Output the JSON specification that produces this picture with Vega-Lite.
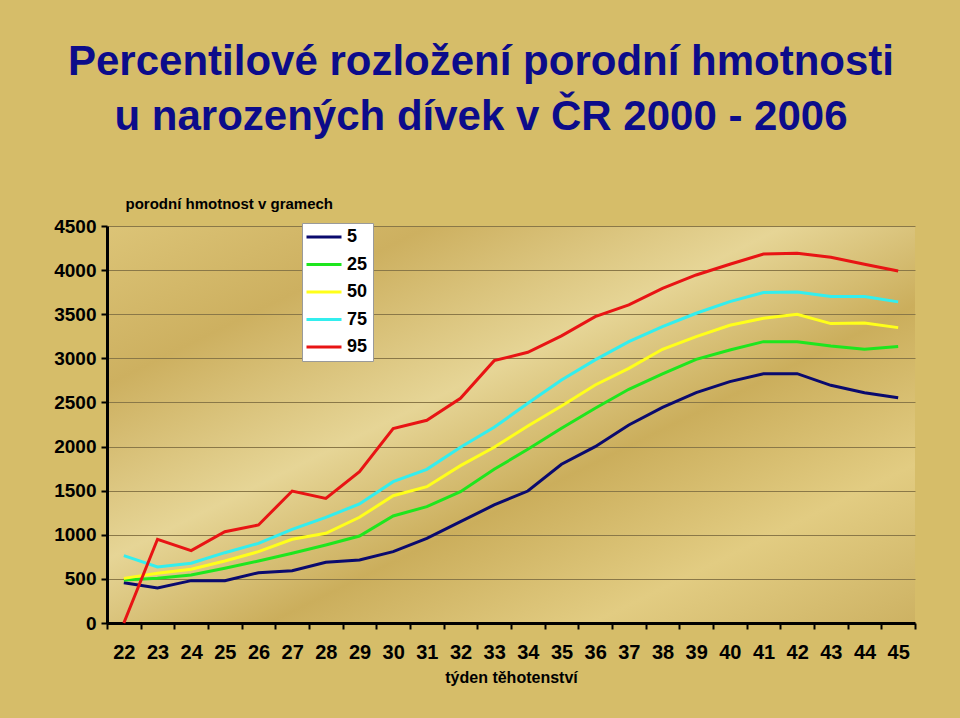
{
  "$schema": "https://vega.github.io/schema/vega-lite/v6.json",
  "width": 808,
  "height": 397,
  "autosize": "none",
  "padding": {"left": 107, "top": 226, "right": 45, "bottom": 95},
  "background": "#d6bd69",
  "title": {
    "text": ["Percentilové rozložení porodní hmotnosti", "u narozených dívek v ČR 2000 - 2006"],
    "font": "Liberation Sans",
    "fontSize": 42,
    "fontWeight": "bold",
    "color": "#0c0c8a",
    "anchor": "middle",
    "frame": "group",
    "dx": -30,
    "lineHeight": 55,
    "offset": 57
  },
  "config": {
    "font": "Liberation Sans",
    "view": {
      "stroke": null,
      "fill": {
        "gradient": "linear",
        "x1": 0, "y1": 0, "x2": 1, "y2": 1,
        "stops": [
          {"offset": 0, "color": "#dcc477"},
          {"offset": 0.2, "color": "#cdb060"},
          {"offset": 0.42, "color": "#e6d596"},
          {"offset": 0.6, "color": "#cbae5c"},
          {"offset": 0.8, "color": "#e2cc82"},
          {"offset": 1, "color": "#cdb263"}
        ]
      }
    }
  },
  "data": {
    "values": [
      {"w": 22, "p": "5", "v": 457}, {"w": 23, "p": "5", "v": 397}, {"w": 24, "p": "5", "v": 480}, {"w": 25, "p": "5", "v": 480},
      {"w": 26, "p": "5", "v": 570}, {"w": 27, "p": "5", "v": 593}, {"w": 28, "p": "5", "v": 688}, {"w": 29, "p": "5", "v": 714},
      {"w": 30, "p": "5", "v": 809}, {"w": 31, "p": "5", "v": 960}, {"w": 32, "p": "5", "v": 1149}, {"w": 33, "p": "5", "v": 1338},
      {"w": 34, "p": "5", "v": 1496}, {"w": 35, "p": "5", "v": 1799}, {"w": 36, "p": "5", "v": 1999}, {"w": 37, "p": "5", "v": 2245},
      {"w": 38, "p": "5", "v": 2445}, {"w": 39, "p": "5", "v": 2611}, {"w": 40, "p": "5", "v": 2736}, {"w": 41, "p": "5", "v": 2826},
      {"w": 42, "p": "5", "v": 2826}, {"w": 43, "p": "5", "v": 2694}, {"w": 44, "p": "5", "v": 2611}, {"w": 45, "p": "5", "v": 2554},

      {"w": 22, "p": "25", "v": 488}, {"w": 23, "p": "25", "v": 506}, {"w": 24, "p": "25", "v": 544}, {"w": 25, "p": "25", "v": 620},
      {"w": 26, "p": "25", "v": 703}, {"w": 27, "p": "25", "v": 790}, {"w": 28, "p": "25", "v": 884}, {"w": 29, "p": "25", "v": 986},
      {"w": 30, "p": "25", "v": 1213}, {"w": 31, "p": "25", "v": 1319}, {"w": 32, "p": "25", "v": 1489}, {"w": 33, "p": "25", "v": 1742},
      {"w": 34, "p": "25", "v": 1969}, {"w": 35, "p": "25", "v": 2207}, {"w": 36, "p": "25", "v": 2434}, {"w": 37, "p": "25", "v": 2649},
      {"w": 38, "p": "25", "v": 2823}, {"w": 39, "p": "25", "v": 2989}, {"w": 40, "p": "25", "v": 3095}, {"w": 41, "p": "25", "v": 3189},
      {"w": 42, "p": "25", "v": 3189}, {"w": 43, "p": "25", "v": 3140}, {"w": 44, "p": "25", "v": 3103}, {"w": 45, "p": "25", "v": 3133},

      {"w": 22, "p": "50", "v": 506}, {"w": 23, "p": "50", "v": 563}, {"w": 24, "p": "50", "v": 609}, {"w": 25, "p": "50", "v": 703},
      {"w": 26, "p": "50", "v": 809}, {"w": 27, "p": "50", "v": 949}, {"w": 28, "p": "50", "v": 1017}, {"w": 29, "p": "50", "v": 1198},
      {"w": 30, "p": "50", "v": 1443}, {"w": 31, "p": "50", "v": 1545}, {"w": 32, "p": "50", "v": 1784}, {"w": 33, "p": "50", "v": 1992},
      {"w": 34, "p": "50", "v": 2234}, {"w": 35, "p": "50", "v": 2460}, {"w": 36, "p": "50", "v": 2698}, {"w": 37, "p": "50", "v": 2887},
      {"w": 38, "p": "50", "v": 3103}, {"w": 39, "p": "50", "v": 3246}, {"w": 40, "p": "50", "v": 3375}, {"w": 41, "p": "50", "v": 3454},
      {"w": 42, "p": "50", "v": 3500}, {"w": 43, "p": "50", "v": 3394}, {"w": 44, "p": "50", "v": 3401}, {"w": 45, "p": "50", "v": 3348},

      {"w": 22, "p": "75", "v": 763}, {"w": 23, "p": "75", "v": 635}, {"w": 24, "p": "75", "v": 677}, {"w": 25, "p": "75", "v": 797},
      {"w": 26, "p": "75", "v": 903}, {"w": 27, "p": "75", "v": 1062}, {"w": 28, "p": "75", "v": 1198}, {"w": 29, "p": "75", "v": 1349},
      {"w": 30, "p": "75", "v": 1602}, {"w": 31, "p": "75", "v": 1742}, {"w": 32, "p": "75", "v": 1992}, {"w": 33, "p": "75", "v": 2218},
      {"w": 34, "p": "75", "v": 2490}, {"w": 35, "p": "75", "v": 2755}, {"w": 36, "p": "75", "v": 2982}, {"w": 37, "p": "75", "v": 3189},
      {"w": 38, "p": "75", "v": 3359}, {"w": 39, "p": "75", "v": 3511}, {"w": 40, "p": "75", "v": 3643}, {"w": 41, "p": "75", "v": 3745},
      {"w": 42, "p": "75", "v": 3753}, {"w": 43, "p": "75", "v": 3700}, {"w": 44, "p": "75", "v": 3700}, {"w": 45, "p": "75", "v": 3640},

      {"w": 22, "p": "95", "v": 0}, {"w": 23, "p": "95", "v": 949}, {"w": 24, "p": "95", "v": 820}, {"w": 25, "p": "95", "v": 1035},
      {"w": 26, "p": "95", "v": 1111}, {"w": 27, "p": "95", "v": 1496}, {"w": 28, "p": "95", "v": 1413}, {"w": 29, "p": "95", "v": 1715},
      {"w": 30, "p": "95", "v": 2203}, {"w": 31, "p": "95", "v": 2298}, {"w": 32, "p": "95", "v": 2547}, {"w": 33, "p": "95", "v": 2974},
      {"w": 34, "p": "95", "v": 3069}, {"w": 35, "p": "95", "v": 3254}, {"w": 36, "p": "95", "v": 3473}, {"w": 37, "p": "95", "v": 3605},
      {"w": 38, "p": "95", "v": 3794}, {"w": 39, "p": "95", "v": 3945}, {"w": 40, "p": "95", "v": 4066}, {"w": 41, "p": "95", "v": 4183},
      {"w": 42, "p": "95", "v": 4191}, {"w": 43, "p": "95", "v": 4146}, {"w": 44, "p": "95", "v": 4066}, {"w": 45, "p": "95", "v": 3990}
    ]
  },
  "mark": {"type": "line", "strokeWidth": 3},
  "encoding": {
    "x": {
      "field": "w",
      "type": "ordinal",
      "bandPosition": 0.5,
      "scale": {"type": "band", "paddingInner": 0, "paddingOuter": 0},
      "axis": {
        "title": "týden těhotenství",
        "titleFontSize": 16,
        "titleFontWeight": "bold",
        "titleColor": "#000",
        "titlePadding": 7,
        "labelAngle": 0,
        "labelFontSize": 20,
        "labelFontWeight": "bold",
        "labelColor": "#000",
        "labelPadding": 13,
        "tickBand": "extent",
        "tickSize": 6,
        "tickWidth": 2,
        "tickColor": "#000",
        "domainColor": "#000",
        "domainWidth": 3,
        "grid": false
      }
    },
    "y": {
      "field": "v",
      "type": "quantitative",
      "scale": {"domain": [0, 4500], "nice": false},
      "axis": {
        "values": [0, 500, 1000, 1500, 2000, 2500, 3000, 3500, 4000, 4500],
        "format": "d",
        "title": "porodní hmotnost v gramech",
        "titleAngle": 0,
        "titleAlign": "left",
        "titleBaseline": "middle",
        "titleX": 18,
        "titleY": -23,
        "titleFontSize": 15,
        "titleFontWeight": "bold",
        "titleColor": "#000",
        "labelFontSize": 19,
        "labelFontWeight": "bold",
        "labelColor": "#000",
        "labelPadding": 5,
        "tickSize": 6,
        "tickWidth": 2,
        "tickColor": "#000",
        "domainColor": "#000",
        "domainWidth": 3,
        "grid": true,
        "gridColor": "#8a7848",
        "gridWidth": 1
      }
    },
    "color": {
      "field": "p",
      "type": "nominal",
      "scale": {"domain": ["5", "25", "50", "75", "95"], "range": ["#0a0a6e", "#1ee61e", "#ffff1a", "#33eeee", "#e81414"]},
      "legend": {
        "title": null,
        "orient": "none",
        "legendX": 195,
        "legendY": -3,
        "fillColor": "#ffffff",
        "strokeColor": "#9a9a9a",
        "padding": 5,
        "rowPadding": 9.5,
        "symbolType": "M-3.5,0H3.5",
        "symbolSize": 100,
        "symbolStrokeWidth": 3,
        "symbolOffset": 8,
        "labelFontSize": 18,
        "labelFontWeight": "bold",
        "labelColor": "#000",
        "labelOffset": 14
      }
    }
  }
}
